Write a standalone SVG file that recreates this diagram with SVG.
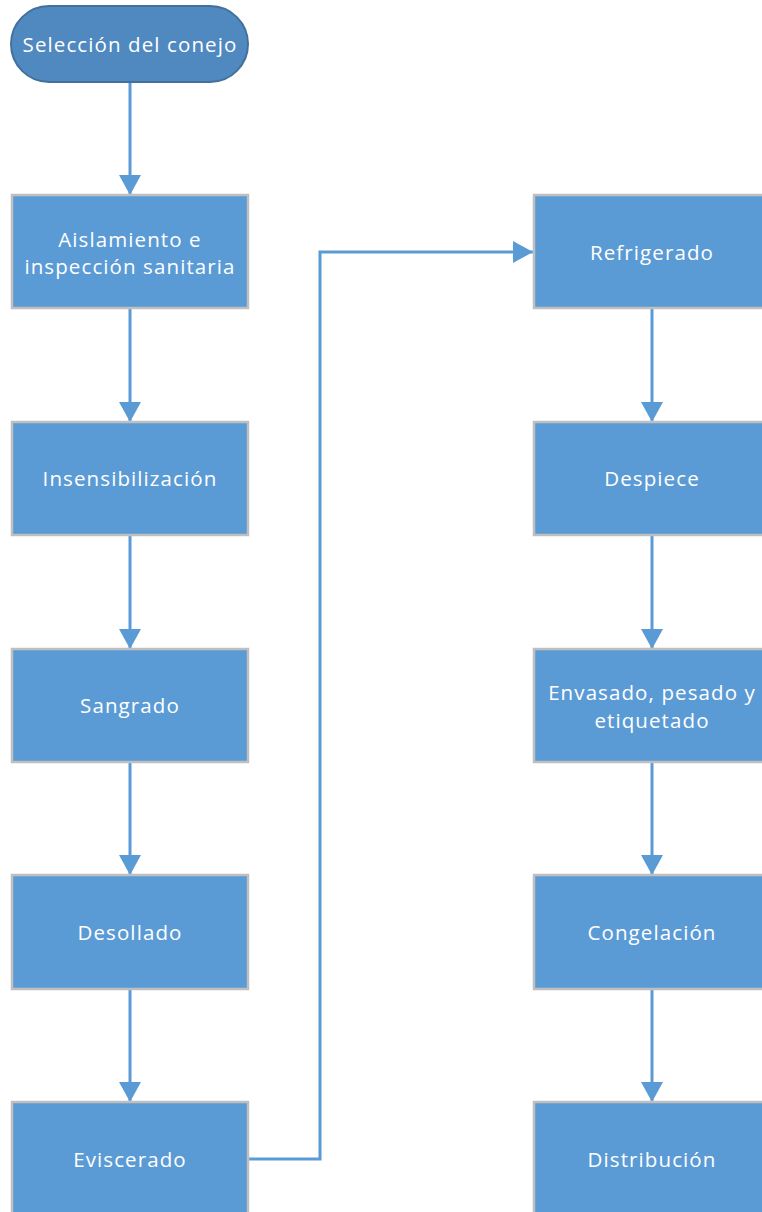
<svg xmlns="http://www.w3.org/2000/svg" width="762" height="1212" viewBox="0 0 762 1212">
<style>
.box{fill:#5b9bd5;stroke:#bfbfbf;stroke-width:2.5}
.term{fill:#4f89c0;stroke:#41719c;stroke-width:2}
.t{font-family:"Open Sans","Liberation Sans",sans-serif;font-size:20.5px;fill:#ffffff;text-anchor:middle;dominant-baseline:central;letter-spacing:1.1px}
.c{fill:none;stroke:#5b9bd5;stroke-width:3}
</style>
<defs>
<marker id="ah" viewBox="0 0 20 22" refX="20" refY="11" markerWidth="20" markerHeight="22" markerUnits="userSpaceOnUse" orient="auto">
<path d="M0,0 L20,11 L0,22 Z" fill="#5b9bd5"/>
</marker>
</defs>
<rect width="762" height="1212" fill="#ffffff"/>
<g id="connectors">
<line class="c" x1="130" y1="82" x2="130" y2="195" marker-end="url(#ah)"/>
<line class="c" x1="130" y1="308" x2="130" y2="422" marker-end="url(#ah)"/>
<line class="c" x1="130" y1="535" x2="130" y2="649" marker-end="url(#ah)"/>
<line class="c" x1="130" y1="762" x2="130" y2="875" marker-end="url(#ah)"/>
<line class="c" x1="130" y1="989" x2="130" y2="1102" marker-end="url(#ah)"/>
<polyline class="c" points="248,1159 320,1159 320,252 533,252" marker-end="url(#ah)"/>
<line class="c" x1="652" y1="308" x2="652" y2="422" marker-end="url(#ah)"/>
<line class="c" x1="652" y1="535" x2="652" y2="649" marker-end="url(#ah)"/>
<line class="c" x1="652" y1="762" x2="652" y2="875" marker-end="url(#ah)"/>
<line class="c" x1="652" y1="989" x2="652" y2="1102" marker-end="url(#ah)"/>
</g>
<g id="n-seleccion"><rect class="term" x="11" y="6" width="237" height="76" rx="38"/><text class="t" x="130" y="44">Selección del conejo</text></g>
<g id="n-aislamiento"><rect class="box" x="12" y="195" width="236" height="113"/><text class="t" x="130" y="238.5">Aislamiento e</text><text class="t" x="130" y="266">inspección sanitaria</text></g>
<g id="n-insensibilizacion"><rect class="box" x="12" y="422" width="236" height="113"/><text class="t" x="130" y="478">Insensibilización</text></g>
<g id="n-sangrado"><rect class="box" x="12" y="649" width="236" height="113"/><text class="t" x="130" y="705">Sangrado</text></g>
<g id="n-desollado"><rect class="box" x="12" y="875" width="236" height="114"/><text class="t" x="130" y="932">Desollado</text></g>
<g id="n-eviscerado"><rect class="box" x="12" y="1102" width="236" height="114"/><text class="t" x="130" y="1159">Eviscerado</text></g>
<g id="n-refrigerado"><rect class="box" x="534" y="195" width="236" height="113"/><text class="t" x="652" y="252">Refrigerado</text></g>
<g id="n-despiece"><rect class="box" x="534" y="422" width="236" height="113"/><text class="t" x="652" y="478">Despiece</text></g>
<g id="n-envasado"><rect class="box" x="534" y="649" width="236" height="113"/><text class="t" x="652" y="692">Envasado, pesado y</text><text class="t" x="652" y="719.5">etiquetado</text></g>
<g id="n-congelacion"><rect class="box" x="534" y="875" width="236" height="114"/><text class="t" x="652" y="932">Congelación</text></g>
<g id="n-distribucion"><rect class="box" x="534" y="1102" width="236" height="114"/><text class="t" x="652" y="1159">Distribución</text></g>
</svg>
